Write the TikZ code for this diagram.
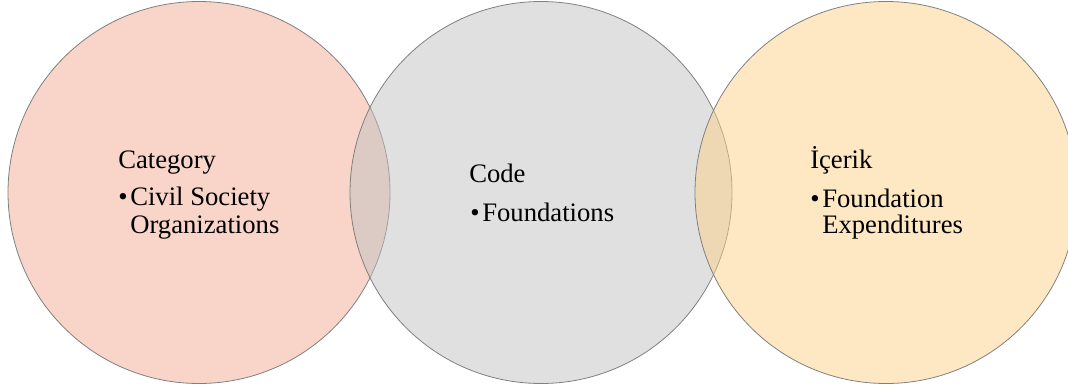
\documentclass[tikz,border=0pt]{standalone}
\usepackage{fontspec}
\setmainfont{Liberation Serif}
\begin{document}
\begin{tikzpicture}[x=0.75pt,y=-0.75pt,
  venn/.style={circle, draw=black!50, line width=0.6pt, fill opacity=0.5, minimum size=286.5pt, inner sep=0pt},
  lbl/.style={anchor=base west, inner sep=0pt, font=\fontsize{20}{22}\selectfont, text=black}]
\useasboundingbox (0,0) rectangle (1068,387);
\clip (0,0) rectangle (1068,387);
\definecolor{cA}{HTML}{F1AB91}
\definecolor{cB}{HTML}{C1C1C1}
\definecolor{cC}{HTML}{FDD189}
\node[venn, fill=cA] (left) at (199,192.5) {};
\node[venn, fill=cB] (mid) at (541,192.5) {};
\node[venn, fill=cC] (right) at (886,192.5) {};
% left texts
\node[lbl] (t1) at (118,168) {Category};
\node[lbl] (t1b) at (118,205) {•};
\node[lbl] (t1c) at (130,205) {Civil Society};
\node[lbl] (t1d) at (130,233) {Organizations};
% middle texts
\node[lbl] (t2) at (469,182) {Code};
\node[lbl] (t2b) at (470,221) {•};
\node[lbl] (t2c) at (482,221) {Foundations};
% right texts
\node[lbl] (t3) at (810,168) {İçerik};
\node[lbl] (t3b) at (810,207) {•};
\node[lbl] (t3c) at (822,207) {Foundation};
\node[lbl] (t3d) at (822,233) {Expenditures};
\end{tikzpicture}
\end{document}
